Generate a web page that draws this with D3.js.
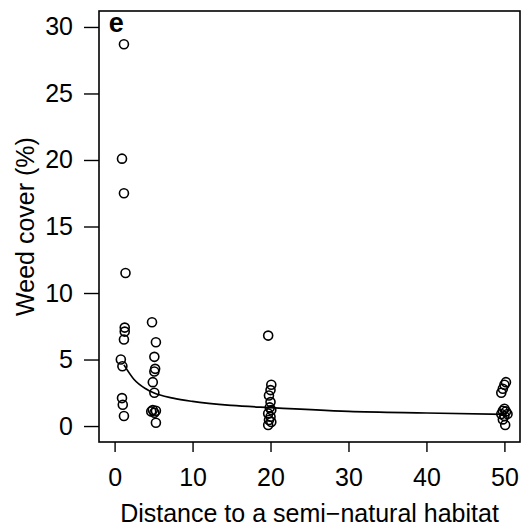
<!DOCTYPE html>
<html lang="en">
<head>
<meta charset="UTF-8">
<title>Weed cover</title>
<script src="https://d3js.org/d3.v7.min.js"></script>
<style>
  body { margin: 0; background: #fff; }
  svg text { font-family: "Liberation Sans", Arial, Helvetica, sans-serif; fill: #000; }
</style>
</head>
<body>
<svg id="canvas"></svg>
<script>
// sample points, 4 distance groups (jittered x)
let distance = [
  1.2, 0.95, 1.2, 1.4, 1.3, 1.3, 1.2, 0.8, 1.0, 0.95, 1.05, 1.2,
  4.8, 5.3, 5.1, 5.2, 5.1, 4.9, 5.1, 4.7, 4.9, 5.1, 5.3, 5.3,
  19.7, 20.1, 20.0, 19.8, 20.0, 19.9, 20.1, 19.7, 20.0, 19.8, 20.1, 19.7,
  50.2, 50.0, 49.8, 49.6, 50.0, 49.8, 50.2, 49.6, 50.0, 50.4, 49.8, 50.1
]
let cover = [
  28.7, 20.1, 17.5, 11.5, 7.4, 7.1, 6.5, 5.0, 4.5, 2.1, 1.6, 0.75,
  7.8, 6.3, 5.2, 4.3, 4.1, 3.3, 2.5, 1.1, 1.2, 1.0, 1.15, 0.25,
  6.8, 3.1, 2.7, 2.3, 1.8, 1.4, 1.2, 0.95, 0.7, 0.45, 0.3, 0.08,
  3.3, 3.1, 2.8, 2.5, 1.3, 1.15, 1.1, 0.9, 0.75, 0.9, 0.5, 0.08
]

// fitted curve
let fitX = [1.2, 2.5, 4, 5, 7.5, 10, 15, 20, 30, 40, 50]
let fitY = [4.6, 3.5, 2.8, 2.5, 2.1, 1.85, 1.55, 1.38, 1.1, 0.98, 0.88]

let xTicks = [0, 10, 20, 30, 40, 50]
let yTicks = [0, 5, 10, 15, 20, 25, 30]

let width = 524
let height = 530
let mLeft = 99, mRight = 520, mTop = 11, mBottom = 442
let fontSize = "25px"

let svg = d3.select("#canvas")
  .attr("width", width)
  .attr("height", height)

// R style: limits widened by 4%
let xScale = d3.scaleLinear().domain([-2, 52]).range([mLeft, mRight])
let yScale = d3.scaleLinear().domain([-1.2, 31.2]).range([mBottom, mTop])

let points = distance.map((d, i) => ({x: d, y: cover[i]}))
let curve = fitX.map((d, i) => ({x: d, y: fitY[i]}))

let xAxis = d3.axisBottom(xScale)
  .tickValues(xTicks)
  .tickSize(10)
  .tickPadding(16)
  .tickFormat(d3.format("d"))

let yAxis = d3.axisLeft(yScale)
  .tickValues(yTicks)
  .tickSize(15)
  .tickPadding(11)

let gx = svg.append("g")
  .attr("transform", "translate(0," + mBottom + ")")
  .call(xAxis)
gx.select(".domain").remove()

let gy = svg.append("g")
  .attr("transform", "translate(" + mLeft + ",0)")
  .call(yAxis)
gy.select(".domain").remove()

svg.selectAll(".tick line").attr("stroke", "#000").attr("stroke-width", 1.4)
svg.selectAll(".tick text").style("font-size", fontSize)

// box
svg.append("rect")
  .attr("x", mLeft)
  .attr("y", mTop)
  .attr("width", mRight - mLeft)
  .attr("height", mBottom - mTop)
  .attr("fill", "none")
  .attr("stroke", "#000")
  .attr("stroke-width", 1.6)

svg.append("path")
  .datum(curve)
  .attr("fill", "none")
  .attr("stroke", "#000")
  .attr("stroke-width", 1.7)
  .attr("d", d3.line().x(d => xScale(d.x)).y(d => yScale(d.y)).curve(d3.curveMonotoneX))

svg.selectAll("circle")
  .data(points)
  .enter()
  .append("circle")
  .attr("cx", d => xScale(d.x))
  .attr("cy", d => yScale(d.y))
  .attr("r", 4.5)
  .attr("fill", "none")
  .attr("stroke", "#000")
  .attr("stroke-width", 1.6)

svg.append("text")
  .attr("x", xScale(0.2))
  .attr("y", yScale(29.6))
  .attr("text-anchor", "middle")
  .style("font-size", "27px")
  .style("font-weight", "bold")
  .text("e")

svg.append("text")
  .attr("x", (mLeft + mRight) / 2)
  .attr("y", 522)
  .attr("text-anchor", "middle")
  .style("font-size", fontSize)
  .text("Distance to a semi\u2212natural habitat")

svg.append("text")
  .attr("transform", "translate(34," + ((mTop + mBottom) / 2) + ") rotate(-90)")
  .attr("text-anchor", "middle")
  .style("font-size", fontSize)
  .text("Weed cover (%)")
</script>
</body>
</html>
